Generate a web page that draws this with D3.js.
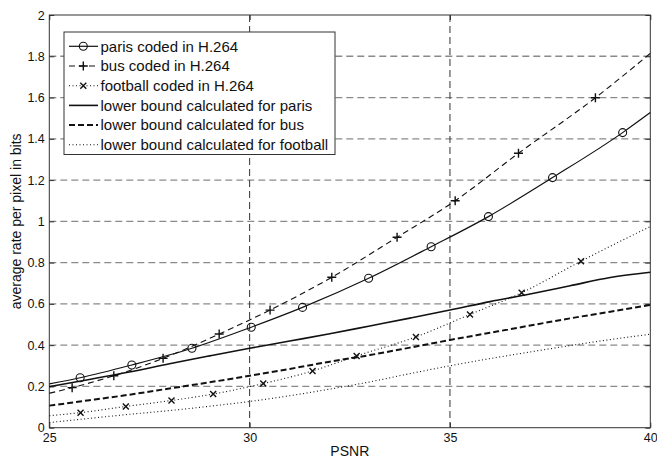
<!DOCTYPE html>
<html>
<head>
<meta charset="utf-8">
<script src="https://cdn.jsdelivr.net/npm/d3@7"></script>
<style>
  html, body { margin: 0; padding: 0; background: #fff; }
  svg { display: block; font-family: "Liberation Sans", Arial, Helvetica, sans-serif; }
</style>
</head>
<body>
<svg id="chart" width="657" height="460"></svg>
<script>
// Rate vs PSNR for three sequences: H.264 results and calculated lower bounds.
// Coded curves: first and last entries are the curve ends, inner entries carry markers.
const parisPsnr = [25, 25.77, 27.06, 28.56, 30.04, 31.32, 32.97, 34.53, 35.96, 37.56, 39.31, 40];
const parisRate = [0.212, 0.242, 0.304, 0.385, 0.487, 0.583, 0.724, 0.877, 1.023, 1.212, 1.430, 1.527];

const busPsnr = [25, 25.57, 26.61, 27.84, 29.24, 30.51, 32.05, 33.68, 35.13, 36.71, 38.63, 40];
const busRate = [0.167, 0.194, 0.252, 0.336, 0.454, 0.570, 0.729, 0.923, 1.100, 1.330, 1.599, 1.814];

const footballPsnr = [25, 25.78, 26.91, 28.05, 29.09, 30.34, 31.57, 32.67, 34.15, 35.50, 36.79, 38.27, 40];
const footballRate = [0.058, 0.073, 0.103, 0.132, 0.163, 0.214, 0.275, 0.348, 0.440, 0.549, 0.654, 0.807, 0.975];

// Lower bounds, sampled every 1 dB
const boundPsnr = [25, 26, 27, 28, 29, 30, 31, 32, 33, 34, 35, 36, 37, 38, 39, 40];
const boundParis = [0.199, 0.234, 0.270, 0.310, 0.348, 0.385, 0.420, 0.455, 0.493, 0.531, 0.570, 0.611, 0.648, 0.688, 0.728, 0.753];
const boundBus = [0.107, 0.133, 0.160, 0.190, 0.220, 0.252, 0.285, 0.320, 0.352, 0.388, 0.425, 0.460, 0.495, 0.530, 0.562, 0.595];
const boundFootball = [0.025, 0.045, 0.065, 0.083, 0.104, 0.127, 0.155, 0.187, 0.222, 0.262, 0.300, 0.335, 0.367, 0.398, 0.427, 0.453];

const xTicks = [25, 30, 35, 40];
const yTicks = [0, 0.2, 0.4, 0.6, 0.8, 1, 1.2, 1.4, 1.6, 1.8, 2];
const yTickLabels = ["0", "0.2", "0.4", "0.6", "0.8", "1", "1.2", "1.4", "1.6", "1.8", "2"];

const legendLabels = [
  "paris coded in H.264",
  "bus coded in H.264",
  "football coded in H.264",
  "lower bound calculated for paris",
  "lower bound calculated for bus",
  "lower bound calculated for football"
];

const svg = d3.select("#chart");
const plotLeft = 49.3, plotRight = 650.3, plotTop = 15, plotBottom = 427.7;

const x = d3.scaleLinear().domain([25, 40]).range([plotLeft, plotRight]);
const y = d3.scaleLinear().domain([0, 2]).range([plotBottom, plotTop]);

// grid
const grid = svg.append("g");
grid.selectAll("line.h").data(yTicks.slice(1, -1)).join("line")
  .attr("x1", plotLeft).attr("x2", plotRight)
  .attr("y1", d => y(d)).attr("y2", d => y(d))
  .attr("stroke", "#8a8a8a").attr("stroke-width", 1.3)
  .attr("stroke-dasharray", "7,4");
grid.selectAll("line.v").data(xTicks.slice(1, -1)).join("line")
  .attr("y1", plotTop).attr("y2", plotBottom)
  .attr("x1", d => x(d)).attr("x2", d => x(d))
  .attr("stroke", "#333").attr("stroke-width", 1)
  .attr("stroke-dasharray", "7,4");

// axes
const xAxis = d3.axisBottom(x).tickValues(xTicks).tickSize(-5).tickPadding(5).tickFormat(d3.format("d"));
const yAxis = d3.axisLeft(y).tickValues(yTicks).tickSize(-5).tickPadding(4.5).tickFormat((d, i) => yTickLabels[i]);
const gx = svg.append("g").attr("transform", `translate(0,${plotBottom})`).call(xAxis);
const gy = svg.append("g").attr("transform", `translate(${plotLeft},0)`).call(yAxis);
[gx, gy].forEach(g => {
  g.select(".domain").remove();
  g.selectAll(".tick line").attr("stroke", "#333");
  g.selectAll(".tick text").attr("fill", "#111").style("font-size", "12.5px")
    .style("font-family", "'Liberation Sans', Arial, sans-serif");
});
// mirrored ticks on top and right
svg.append("g").attr("transform", `translate(0,${plotTop})`)
  .call(d3.axisTop(x).tickValues(xTicks).tickSize(-5).tickFormat(""))
  .call(g => { g.select(".domain").remove(); g.selectAll("line").attr("stroke", "#333"); });
svg.append("g").attr("transform", `translate(${plotRight},0)`)
  .call(d3.axisRight(y).tickValues(yTicks).tickSize(-5).tickFormat(""))
  .call(g => { g.select(".domain").remove(); g.selectAll("line").attr("stroke", "#333"); });

svg.append("rect").attr("x", plotLeft).attr("y", plotTop)
  .attr("width", plotRight - plotLeft).attr("height", plotBottom - plotTop)
  .attr("fill", "none").attr("stroke", "#333").attr("stroke-width", 1);

// axis titles
svg.append("text").attr("x", (plotLeft + plotRight) / 2).attr("y", 456)
  .attr("text-anchor", "middle").style("font-size", "14px").attr("fill", "#111").text("PSNR");
svg.append("text").attr("transform", `translate(21,${(plotTop + plotBottom) / 2}) rotate(-90)`)
  .attr("text-anchor", "middle").style("font-size", "14px").attr("fill", "#111")
  .text("average rate per pixel in bits");

// series styles
const styles = [
  { dash: null, width: 1.2, marker: "o" },
  { dash: "6,4", width: 1.1, marker: "+" },
  { dash: "1,2.5", width: 1.1, marker: "x" },
  { dash: null, width: 1.6, marker: null },
  { dash: "6,3", width: 2, marker: null },
  { dash: "1,2.5", width: 1.1, marker: null }
];

const series = [
  { xs: parisPsnr, ys: parisRate, s: styles[0] },
  { xs: busPsnr, ys: busRate, s: styles[1] },
  { xs: footballPsnr, ys: footballRate, s: styles[2] },
  { xs: boundPsnr, ys: boundParis, s: styles[3] },
  { xs: boundPsnr, ys: boundBus, s: styles[4] },
  { xs: boundPsnr, ys: boundFootball, s: styles[5] }
];

const line = d3.line().x(d => x(d[0])).y(d => y(d[1])).curve(d3.curveMonotoneX);
const plot = svg.append("g");

function drawMarker(g, kind, cx, cy) {
  if (kind === "o") {
    g.append("circle").attr("cx", cx).attr("cy", cy).attr("r", 4)
      .attr("fill", "none").attr("stroke", "#111").attr("stroke-width", 1.1);
  } else if (kind === "+") {
    g.append("path").attr("d", `M${cx - 4.5},${cy}H${cx + 4.5}M${cx},${cy - 4.5}V${cy + 4.5}`)
      .attr("stroke", "#111").attr("stroke-width", 1.4);
  } else if (kind === "x") {
    g.append("path").attr("d", `M${cx - 3},${cy - 3}L${cx + 3},${cy + 3}M${cx - 3},${cy + 3}L${cx + 3},${cy - 3}`)
      .attr("stroke", "#111").attr("stroke-width", 1.4);
  }
}

series.forEach(sr => {
  const pts = sr.xs.map((v, i) => [v, sr.ys[i]]);
  plot.append("path").datum(pts).attr("d", line)
    .attr("fill", "none").attr("stroke", "#111")
    .attr("stroke-width", sr.s.width)
    .attr("stroke-dasharray", sr.s.dash);
  if (sr.s.marker) {
    pts.slice(1, -1).forEach(p => drawMarker(plot, sr.s.marker, x(p[0]), y(p[1])));
  }
});

// legend
const lg = svg.append("g");
const lgX = 64, lgY = 32, lgW = 271, lgH = 122.5;
lg.append("rect").attr("x", lgX).attr("y", lgY).attr("width", lgW).attr("height", lgH)
  .attr("fill", "#fff").attr("stroke", "#333").attr("stroke-width", 1);
legendLabels.forEach((lab, i) => {
  const cy = 46.3 + i * 19.7;
  const s = styles[i];
  lg.append("line").attr("x1", 69).attr("x2", 98).attr("y1", cy).attr("y2", cy)
    .attr("stroke", "#111").attr("stroke-width", s.width).attr("stroke-dasharray", s.dash);
  if (s.marker) drawMarker(lg, s.marker, 83.3, cy);
  lg.append("text").attr("x", 100.5).attr("y", cy + 5.2)
    .style("font-size", "15px").attr("fill", "#111").text(lab);
});
</script>
</body>
</html>
